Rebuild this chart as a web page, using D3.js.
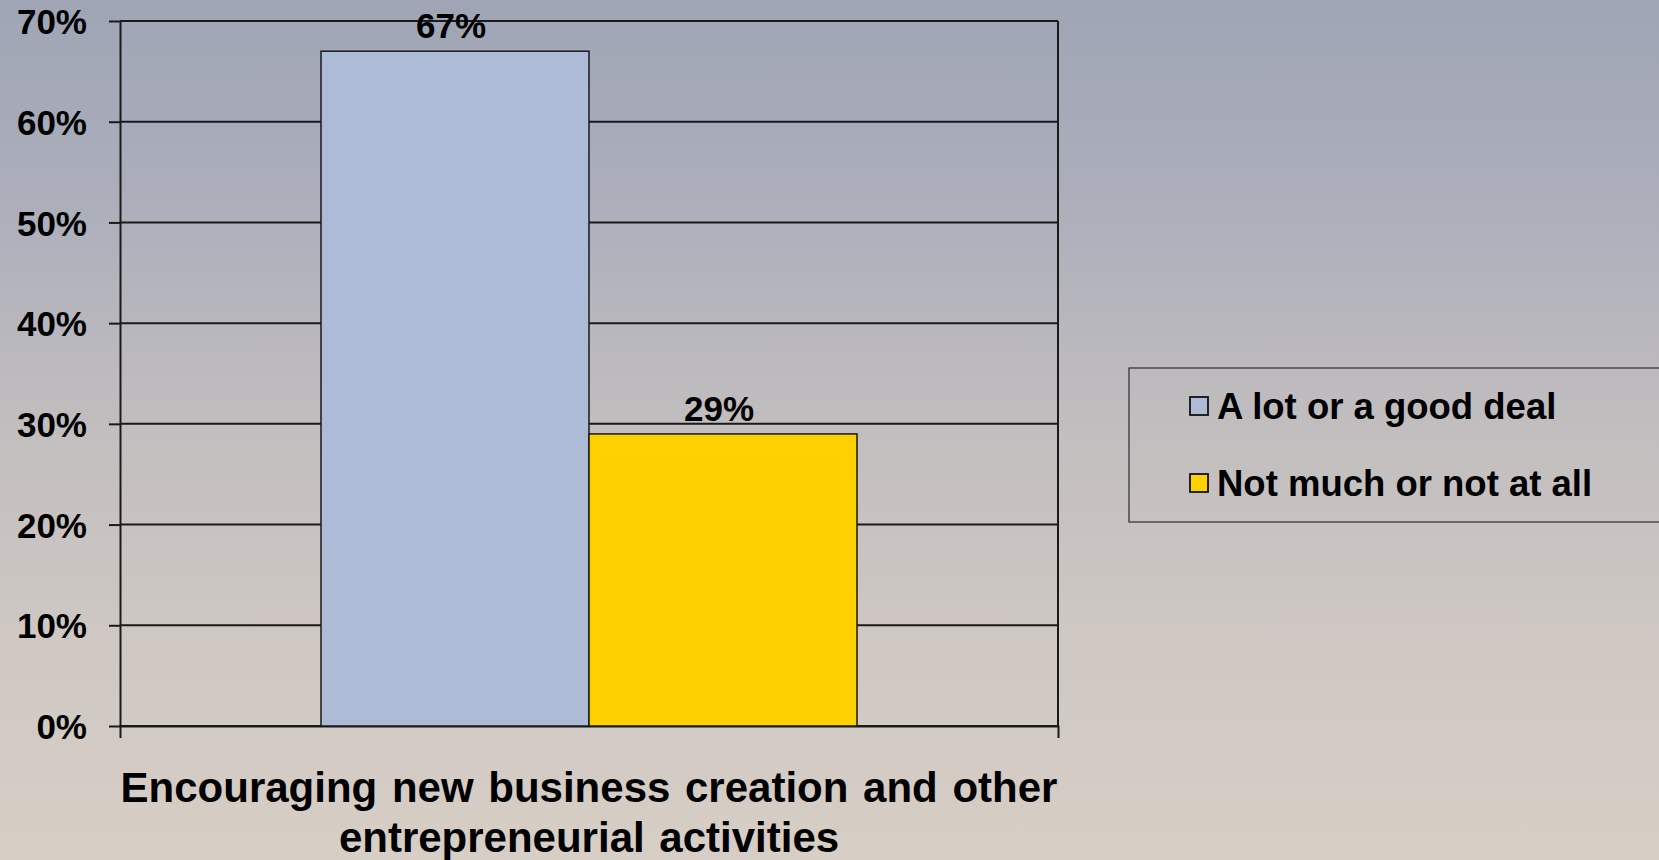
<!DOCTYPE html>
<html>
<head>
<meta charset="utf-8">
<script src="https://cdn.jsdelivr.net/npm/d3@7"></script>
<style>
  html, body { margin: 0; padding: 0; overflow: hidden; }
  svg { display: block; }
  text { font-family: "Liberation Sans", Arial, sans-serif; font-weight: bold; fill: #000; }
</style>
</head>
<body>
<svg id="chart" width="1659" height="860"></svg>
<script>
// Survey result: share of respondents per answer
const categories = ["Encouraging new business creation and other entrepreneurial activities"];
const categoryLines = ["Encouraging new business creation and other", "entrepreneurial activities"];
const seriesNames = ["A lot or a good deal", "Not much or not at all"];
const seriesValues = [67, 29];
const seriesColors = ["#adbbd7", "#ffd000"];
const yTicks = [0, 10, 20, 30, 40, 50, 60, 70];

const W = 1659, H = 860;
const margin = { left: 120, right: 601, top: 21, bottom: 134 };
const innerW = W - margin.left - margin.right;
const innerH = H - margin.top - margin.bottom;

const svg = d3.select("#chart");

// background wash
const defs = svg.append("defs");
const grad = defs.append("linearGradient").attr("id", "bg")
  .attr("x1", 0).attr("y1", 0).attr("x2", 0).attr("y2", 1);
[["0%", "#9fa5b5"], ["25%", "#adafbb"], ["50%", "#c2bebf"], ["75%", "#cfc8c3"], ["100%", "#d7cec5"]]
  .forEach(([o, c]) => grad.append("stop").attr("offset", o).attr("stop-color", c));
svg.append("rect").attr("width", W).attr("height", H).attr("fill", "url(#bg)");

const g = svg.append("g").attr("transform", `translate(${margin.left},${margin.top})`);

const y = d3.scaleLinear().domain([0, 70]).range([innerH, 0]);
const x0 = d3.scaleBand().domain(categories).range([0, innerW]).paddingInner(0).paddingOuter(0.375);
const x1 = d3.scaleBand().domain(seriesNames).range([0, x0.bandwidth()]).padding(0);

// horizontal gridlines
g.append("g").selectAll("line").data(yTicks).join("line")
  .attr("x1", 0).attr("x2", innerW)
  .attr("y1", d => y(d)).attr("y2", d => y(d))
  .attr("stroke", "#1a1a1a").attr("stroke-width", 2);

// plot frame (right side)
g.append("line").attr("x1", innerW).attr("x2", innerW).attr("y1", 0).attr("y2", innerH)
  .attr("stroke", "#1a1a1a").attr("stroke-width", 2);

// y axis
const yAxis = g.append("g")
  .call(d3.axisLeft(y).tickValues(yTicks).tickSize(11).tickSizeOuter(0).tickPadding(22)
    .tickFormat(d => d + "%"));
yAxis.select(".domain").attr("stroke", "#1a1a1a").attr("stroke-width", 2);
yAxis.selectAll(".tick line").attr("stroke", "#1a1a1a").attr("stroke-width", 2);
yAxis.selectAll(".tick text")
  .style("font-family", "'Liberation Sans', Arial, sans-serif")
  .style("font-weight", "bold").style("font-size", "35px").attr("fill", "#000").attr("dy", "0.36em");

// x axis (category boundary ticks)
const xAxis = g.append("g").attr("transform", `translate(0,${innerH})`)
  .call(d3.axisBottom(x0).tickSize(0).tickSizeOuter(12).tickFormat(""));
xAxis.select(".domain").attr("stroke", "#1a1a1a").attr("stroke-width", 2);

// bars
const bars = g.append("g").attr("transform", `translate(${x0(categories[0])},0)`);
bars.selectAll("rect").data(seriesNames).join("rect")
  .attr("x", (d) => x1(d))
  .attr("y", (d, i) => y(seriesValues[i]))
  .attr("width", x1.bandwidth())
  .attr("height", (d, i) => innerH - y(seriesValues[i]))
  .attr("fill", (d, i) => seriesColors[i])
  .attr("stroke", "#1a1a1a").attr("stroke-width", 1.5);

// value labels
bars.selectAll("text.val").data(seriesNames).join("text")
  .attr("class", "val")
  .attr("x", d => x1(d) + x1.bandwidth() / 2 - 4)
  .attr("y", (d, i) => y(seriesValues[i]) - 13)
  .attr("text-anchor", "middle")
  .style("font-size", "35px")
  .text((d, i) => seriesValues[i] + "%");

// category label
const catText = g.append("text")
  .attr("x", x0(categories[0]) + x0.bandwidth() / 2)
  .attr("y", innerH + 76)
  .attr("text-anchor", "middle")
  .style("font-size", "42px");
categoryLines.forEach((t, i) => {
  catText.append("tspan")
    .attr("x", x0(categories[0]) + x0.bandwidth() / 2)
    .attr("dy", i === 0 ? 0 : 50)
    .attr("word-spacing", "3px")
    .text(t);
});

// legend
const legend = svg.append("g").attr("transform", "translate(1129,368)");
legend.append("rect").attr("x", 0).attr("y", 0).attr("width", 560).attr("height", 154)
  .attr("fill", "none").attr("stroke", "#2a2a2a").attr("stroke-width", 1.2);
const items = legend.selectAll("g.item").data(seriesNames).join("g")
  .attr("class", "item")
  .attr("transform", (d, i) => `translate(61,${38 + i * 77})`);
items.append("rect").attr("x", 0).attr("y", -9).attr("width", 18).attr("height", 18)
  .attr("fill", (d, i) => seriesColors[i]).attr("stroke", "#111").attr("stroke-width", 1.8);
items.append("text").attr("x", 27).attr("y", 0).attr("dy", "0.36em")
  .style("font-size", "36.5px")
  .text(d => d);
</script>
</body>
</html>
